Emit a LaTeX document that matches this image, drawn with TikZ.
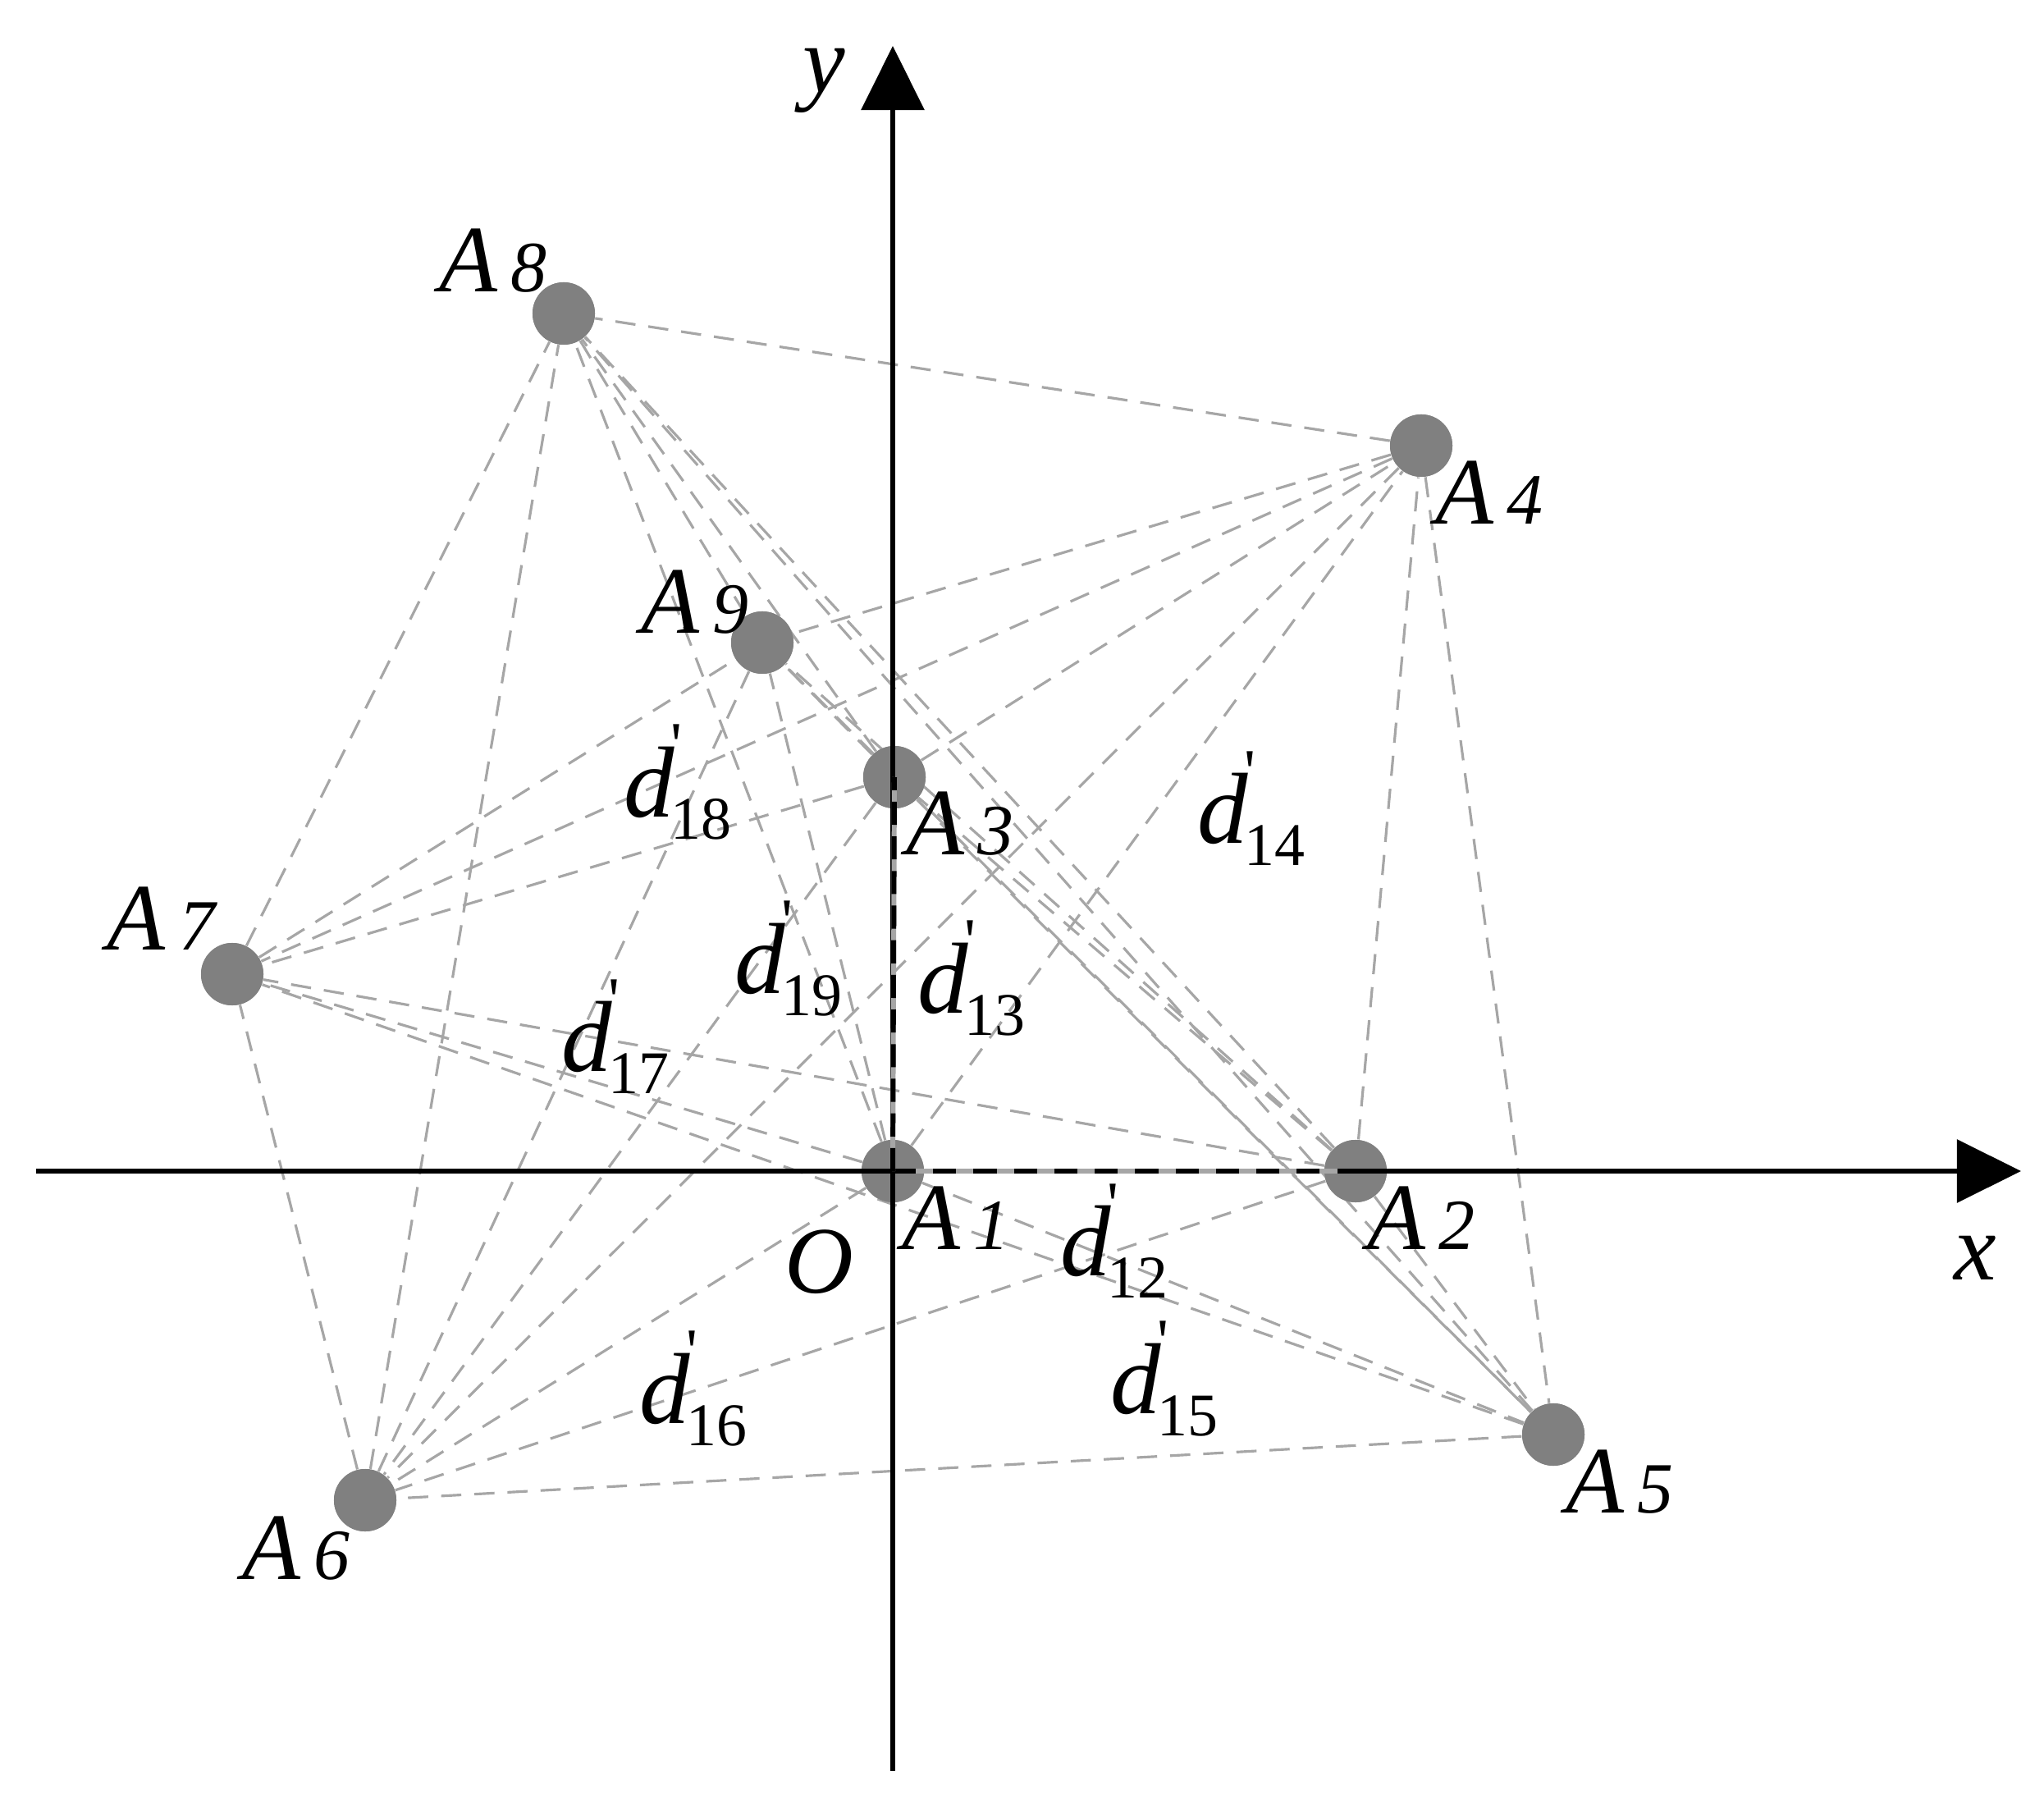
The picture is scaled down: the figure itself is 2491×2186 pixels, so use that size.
\documentclass[tikz,border=0pt]{standalone}
\usepackage{fontspec}
\setmainfont{Liberation Serif}
\usetikzlibrary{arrows.meta}
\newcommand\Alab[1]{\textit{A}\hspace{0.14em}{\fontsize{25}{25}\selectfont\textit{#1}}}
\newcommand\dlab[1]{\textit{d}\hspace{-0.04em}\rlap{\raisebox{0.5em}{\fontsize{22}{22}\selectfont\textquotesingle}}\raisebox{-0.22em}{\fontsize{21}{21}\selectfont #1}}
\begin{document}
\begin{tikzpicture}[x=0.01cm,y=-0.01cm,
  dot/.style={circle,fill=black!50,draw=none,inner sep=0pt,minimum size=0.76cm},
  edge/.style={draw=black!35,line width=0.9pt,dash pattern=on 7pt off 4.5pt},
  axis/.style={line width=1.7pt,-{Triangle[length=0.78cm,width=0.76cm]}},
  lab/.style={inner sep=0pt,font=\fontsize{33}{38}\selectfont},
  dl/.style={inner sep=0pt,font=\fontsize{35}{40}\selectfont}]
\useasboundingbox (0,0) rectangle (2491,2186);
% points
\node[dot] (A1) at (1088,1427) {};
\node[dot] (A2) at (1652,1427) {};
\node[dot] (A3) at (1090,947) {};
\node[dot] (A4) at (1732,543) {};
\node[dot] (A5) at (1893,1748) {};
\node[dot] (A6) at (445,1828) {};
\node[dot] (A7) at (283,1187) {};
\node[dot] (A8) at (687,382) {};
\node[dot] (A9) at (929,783) {};
% connectors
\foreach \i [evaluate=\i as \ii using int(\i+1)] in {1,...,8}{
  \foreach \j in {\ii,...,9}{
    \draw[edge] (A\i) -- (A\j);
  }
}
% redraw dots over lines
\foreach \k/\px/\py in {1/1088/1427,2/1652/1427,3/1090/947,4/1732/543,5/1893/1748,6/445/1828,7/283/1187,8/687/382,9/929/783}{
  \fill[black!50] (\px,\py) circle[radius=0.38cm];
}
% axes
\coordinate (xs) at (44,1427);
\coordinate (xe) at (2463,1427);
\coordinate (ys) at (1088,2158);
\coordinate (ye) at (1088,56);
\draw[axis] (xs) -- (xe);
\draw[axis] (ys) -- (ye);
\draw[line width=1.7pt,black!35] (A1.center) -- (A2.center);
\draw[line width=1.7pt,black,dash pattern=on 8pt off 6pt] (A1.center) -- (A2.center);
\draw[line width=1.7pt,black!35] (A1.center) -- (A3.center);
\draw[line width=1.7pt,black,dash pattern=on 8pt off 4pt] (A1.center) -- (A3.center);
% axis labels
\node[lab] (ly) at (1004,98) {\textit{y}};
\node[lab] (lx) at (2407,1533) {\textit{x}};
\node[lab] (lO) at (998,1538) {\textit{O}};
% point labels
\node[lab] (t1) at (1165,1484) {\Alab{1}};
\node[lab] (t2) at (1732,1484) {\Alab{2}};
\node[lab] (t3) at (1170,1004) {\Alab{3}};
\node[lab] (t4) at (1815,600) {\Alab{4}};
\node[lab] (t5) at (1974,1806) {\Alab{5}};
\node[lab] (t6) at (361,1887) {\Alab{6}};
\node[lab] (t7) at (198,1119) {\Alab{7}};
\node[lab] (t8) at (601,318) {\Alab{8}};
\node[lab] (t9) at (847,734) {\Alab{9}};
% distance labels
\node[dl] (d18) at (826,953) {\dlab{18}};
\node[dl] (d14) at (1525,985) {\dlab{14}};
\node[dl] (d19) at (961,1168) {\dlab{19}};
\node[dl] (d13) at (1184,1192) {\dlab{13}};
\node[dl] (d17) at (750,1263) {\dlab{17}};
\node[dl] (d12) at (1358,1512) {\dlab{12}};
\node[dl] (d16) at (845,1692) {\dlab{16}};
\node[dl] (d15) at (1419,1680) {\dlab{15}};
\end{tikzpicture}
\end{document}
